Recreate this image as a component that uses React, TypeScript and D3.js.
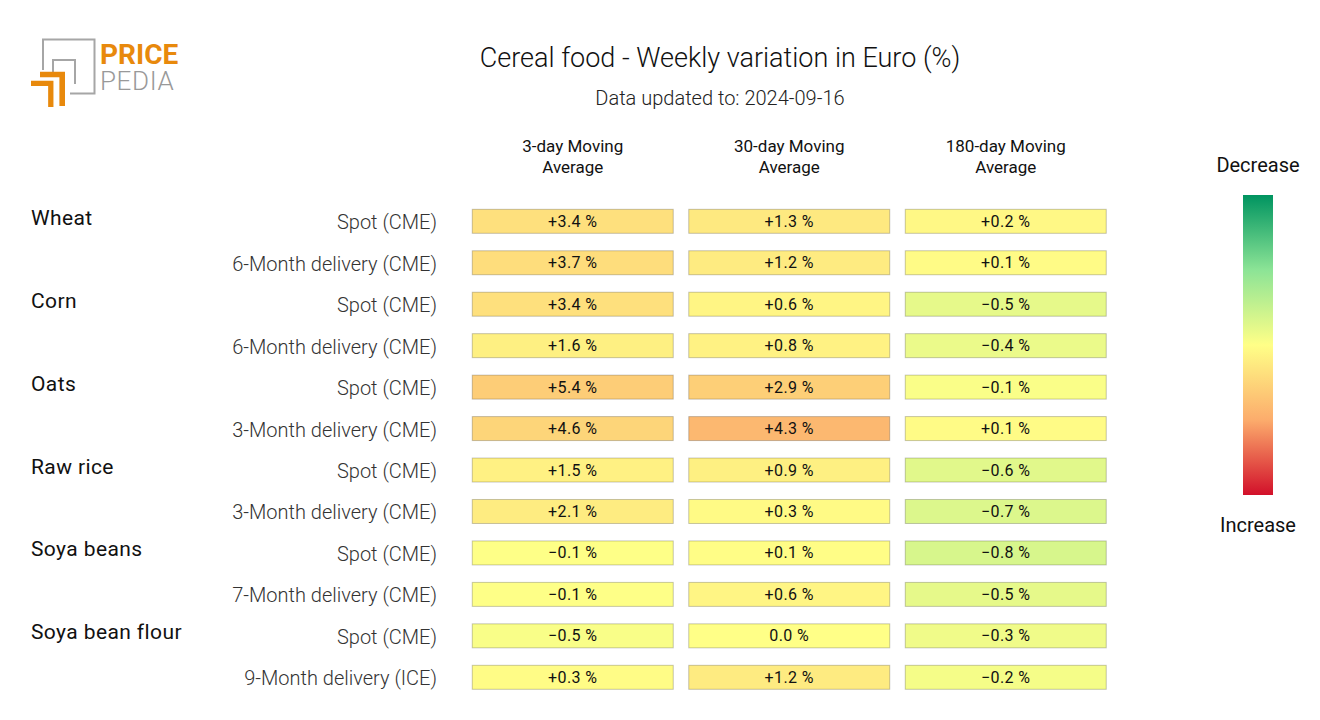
import React from "react";
import * as d3 from "d3";

const W = 1320;
const H = 720;

const title = "Cereal food - Weekly variation in Euro (%)";
const subtitle = "Data updated to: 2024-09-16";

const columns = ["3-day Moving|Average", "30-day Moving|Average", "180-day Moving|Average"];

const groups = ["Wheat", "", "Corn", "", "Oats", "", "Raw rice", "", "Soya beans", "", "Soya bean flour", ""];
const subLabels = [
  "Spot (CME)",
  "6-Month delivery (CME)",
  "Spot (CME)",
  "6-Month delivery (CME)",
  "Spot (CME)",
  "3-Month delivery (CME)",
  "Spot (CME)",
  "3-Month delivery (CME)",
  "Spot (CME)",
  "7-Month delivery (CME)",
  "Spot (CME)",
  "9-Month delivery (ICE)",
];

const ma3 = [3.4, 3.7, 3.4, 1.6, 5.4, 4.6, 1.5, 2.1, -0.1, -0.1, -0.5, 0.3];
const ma30 = [1.3, 1.2, 0.6, 0.8, 2.9, 4.3, 0.9, 0.3, 0.1, 0.6, 0.0, 1.2];
const ma180 = [0.2, 0.1, -0.5, -0.4, -0.1, 0.1, -0.6, -0.7, -0.8, -0.5, -0.3, -0.2];
const seriesValues = [ma3, ma30, ma180];

// per-column colour scale half-range (value at which the scale reaches its end)
const colScaleMax = [18, 10, 4.6];

const legendTop = "Decrease";
const legendBottom = "Increase";

const gradientStops: [number, string][] = [
  [0, "rgb(0,148,96)"],
  [0.25, "rgb(140,228,150)"],
  [0.5, "rgb(255,255,135)"],
  [0.75, "rgb(252,172,108)"],
  [1, "rgb(210,16,42)"],
];

const FONT = "Roboto, 'Noto Sans', sans-serif";

function fmt(v: number) {
  const s = Math.abs(v).toFixed(1);
  if (v > 0) return "+" + s + " %";
  if (v < 0) return "\u2212" + s + " %";
  return s + " %";
}

export default function App() {
  const rowIdx = d3.range(subLabels.length);
  const y = d3
    .scaleBand<number>()
    .domain(rowIdx)
    .range([200.6, 698])
    .paddingInner(0.421)
    .paddingOuter(0.21);
  const x = d3
    .scaleBand<number>()
    .domain(d3.range(columns.length))
    .range([464.5, 1114])
    .paddingInner(0.0716)
    .paddingOuter(0.0358);

  const tColor = d3
    .scaleLinear<string>()
    .domain(gradientStops.map((s) => s[0]))
    .range(gradientStops.map((s) => s[1]))
    .interpolate(d3.interpolateRgb)
    .clamp(true);

  const colorFor = (ci: number, v: number) => {
    const m = colScaleMax[ci];
    const t = d3.scaleLinear().domain([-m, m]).range([0, 1]).clamp(true)(v);
    return tColor(t);
  };

  const legY = d3.scaleLinear().domain([0, 1]).range([195, 495]);

  return (
    <svg
      width={W}
      height={H}
      style={{ position: "absolute", left: 0, top: 0, background: "#fff" }}
      fontFamily={FONT}
    >
      <defs>
        <linearGradient id="legGrad" x1="0" y1="0" x2="0" y2="1">
          {gradientStops.map(([o, c], i) => (
            <stop key={i} offset={o} stopColor={c} />
          ))}
        </linearGradient>
      </defs>
      <rect width={W} height={H} fill="#fff" />

      {/* Logo */}
      <g>
        <path d="M43,70 V39.5 H94.5 V93.5 H70" fill="none" stroke="#a6a6a6" strokeWidth={2} />
        <path d="M53,72 V60 H75 V84" fill="none" stroke="#a6a6a6" strokeWidth={2} />
        <path d="M40,74.5 H62.2 V106" fill="none" stroke="#e8890c" strokeWidth={5.6} />
        <path d="M31,83.3 H50.8 V107" fill="none" stroke="#e8890c" strokeWidth={5.3} />
        <text x={100} y={64} fontSize={28} fontWeight={700} fill="#e8890c" fontFamily={FONT}>
          PRICE
        </text>
        <text x={100} y={90} fontSize={26} fontWeight={300} fill="#999" fontFamily={FONT} letterSpacing={0.6}>
          PEDIA
        </text>
      </g>

      {/* Titles */}
      <text x={720} y={67} textAnchor="middle" fontSize={27} fontWeight={300} fill="#111">
        {title}
      </text>
      <text x={720} y={105} textAnchor="middle" fontSize={20} fontWeight={300} fill="#222">
        {subtitle}
      </text>

      {/* Column headers */}
      {columns.map((c, ci) => {
        const cx = (x(ci) as number) + x.bandwidth() / 2;
        return c.split("|").map((line, li) => (
          <text
            key={ci + "-" + li}
            x={cx}
            y={152 + li * 21}
            textAnchor="middle"
            fontSize={17}
            fill="#111"
          >
            {line}
          </text>
        ));
      })}

      {/* Row labels */}
      {rowIdx.map((i) => {
        const cy = (y(i) as number) + y.bandwidth() / 2;
        return (
          <g key={"lab" + i}>
            {groups[i] && (
              <text x={31} y={cy + 3.5} fontSize={21} fontWeight={400} letterSpacing={0.4} fill="#111">
                {groups[i]}
              </text>
            )}
            <text x={437} y={cy + 8} textAnchor="end" fontSize={20} fontWeight={300} fill="#333">
              {subLabels[i]}
            </text>
          </g>
        );
      })}

      {/* Cells */}
      {seriesValues.map((vals, ci) =>
        vals.map((v, i) => {
          const x0 = x(ci) as number;
          const y0 = y(i) as number;
          return (
            <g key={ci + "c" + i}>
              <rect
                x={x0}
                y={y0}
                width={x.bandwidth()}
                height={y.bandwidth()}
                fill={colorFor(ci, v)}
                stroke="rgba(0,0,0,0.22)"
                strokeWidth={1}
              />
              <text
                x={x0 + x.bandwidth() / 2}
                y={y0 + y.bandwidth() / 2 + 5.5}
                textAnchor="middle"
                fontSize={16}
                letterSpacing={0.4}
                fill="#111"
              >
                {fmt(v)}
              </text>
            </g>
          );
        })
      )}

      {/* Legend */}
      <text x={1258} y={172} textAnchor="middle" fontSize={20} fill="#111">
        {legendTop}
      </text>
      <rect x={1243} y={legY(0)} width={30} height={legY(1) - legY(0)} fill="url(#legGrad)" />
      <text x={1258} y={532} textAnchor="middle" fontSize={20} fill="#111">
        {legendBottom}
      </text>
    </svg>
  );
}
